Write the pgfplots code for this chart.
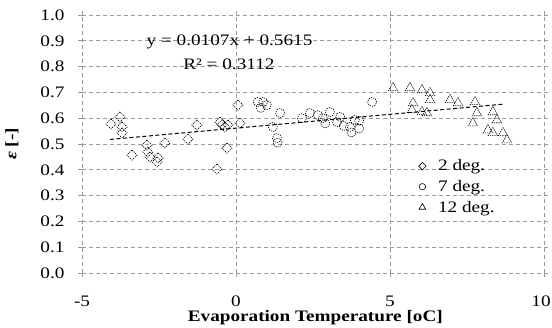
\documentclass[border=0pt]{standalone}
\usepackage{pgfplots}
\pgfplotsset{compat=1.18}
\usepackage{fontspec}
\setmainfont{Liberation Serif}[FakeStretch=1.2]
\newcommand{\fs}{\fontsize{16}{19}\selectfont}
\begin{document}
\begin{tikzpicture}
\begin{axis}[
  scale only axis,
  width=462pt, height=258pt,
  xmin=-5, xmax=10, ymin=0, ymax=1,
  xtick={-5,0,5,10},
  xticklabels={-5,0,5,{\hspace*{-6pt}10}},
  ytick={0,0.1,...,1.0},
  /pgf/number format/assume math mode=true,
  yticklabel style={/pgf/number format/fixed,/pgf/number format/precision=1,/pgf/number format/fixed zerofill, xshift=-10pt},
  xticklabel style={yshift=-15pt},
  tick label style={font=\fs},
  grid=major,
  major grid style={black!40, line width=0.8pt, dash pattern=on 4pt off 3pt},
  axis line style={draw=none},
  tick align=outside,
  major tick length=4pt,
  tick style={black!40, line width=0.8pt},
  xlabel={\textbf{Evaporation Temperature [oC]}},
  ylabel={\textbf{\textit{ε} [-]}},
  label style={font=\fs},
  xlabel style={at={(axis description cs:0.505,-0.174)}, anchor=center},
  ylabel style={at={(axis description cs:-0.1515,0.5)}, anchor=center},
  legend style={draw=none, fill=none, font=\fs, at={(axis description cs:0.722,0.455)}, anchor=north west, row sep=4pt,
    /tikz/every odd column/.append style={column sep=10pt}},
  legend cell align=left,
]
\coordinate (o) at (rel axis cs:0,0);
\addlegendimage{only marks, mark=square, mark size=2.6pt, mark options={rotate=45}, black, line width=0.6pt}
\addlegendentry{2 deg.}
\addlegendimage{only marks, mark=o, mark size=3.2pt, black, line width=0.6pt}
\addlegendentry{7 deg.}
\addlegendimage{only marks, mark=triangle, mark size=3.8pt, black, line width=0.6pt}
\addlegendentry{12 deg.}
% 2 deg.
\addplot[only marks, mark=square, mark size=3.6pt, black, line width=0.6pt, mark options={rotate=45, dash pattern=on 1.3pt off 1pt}, forget plot] coordinates {
(-4.06,0.578) (-3.77,0.605) (-3.70,0.566) (-3.70,0.543) (-3.38,0.457)
(-2.89,0.496) (-2.86,0.469) (-2.79,0.450) (-2.56,0.430) (-2.53,0.446)
(-2.31,0.504) (-1.56,0.519) (-1.27,0.574) (-0.52,0.585) (-0.36,0.566)
(-0.26,0.574) (-0.29,0.484) (-0.62,0.403) (0.06,0.651) (0.13,0.581)
(-0.45,0.575)
};
% 7 deg.
\addplot[only marks, mark=o, mark size=4.5pt, black, line width=0.6pt, mark options={dash pattern=on 1.3pt off 1pt}, forget plot] coordinates {
(0.71,0.663) (0.88,0.663) (1.00,0.651) (0.80,0.640) (1.43,0.620)
(1.20,0.566) (1.33,0.523) (1.35,0.505) (2.14,0.600) (2.40,0.620)
(2.66,0.612) (2.82,0.600) (3.05,0.624) (2.90,0.580) (3.28,0.585)
(3.38,0.605) (3.50,0.570) (3.70,0.566) (3.86,0.593) (3.75,0.545)
(4.00,0.560) (4.42,0.663) (4.00,0.590)
};
% 12 deg.
\addplot[only marks, mark=triangle, mark size=5.5pt, black, line width=0.6pt, mark options={dash pattern=on 1.3pt off 1pt}, forget plot] coordinates {
(5.10,0.717) (5.65,0.717) (6.04,0.709) (6.30,0.698) (5.75,0.659)
(6.30,0.671) (5.71,0.632) (6.04,0.624) (6.20,0.620) (6.95,0.671)
(7.21,0.659) (7.76,0.663) (7.82,0.620) (7.69,0.581) (8.34,0.624)
(8.47,0.593) (8.18,0.554) (8.34,0.543) (8.67,0.543) (8.80,0.515)
};
% trend line y = 0.0107x + 0.5615
\addplot[black, line width=1pt, dash pattern=on 4pt off 2.5pt, forget plot] coordinates {(-4.09,0.5177) (8.67,0.6543)};
\node[font=\fs, anchor=center] at (axis cs:-0.21,0.895) {y = 0.0107x + 0.5615};
\node[font=\fs, anchor=center] at (axis cs:-0.23,0.81) {R² = 0.3112};
\end{axis}
\pgfresetboundingbox
\path (o) ++(-82pt,-54pt) rectangle ++(552pt,327pt);
\end{tikzpicture}
\end{document}
